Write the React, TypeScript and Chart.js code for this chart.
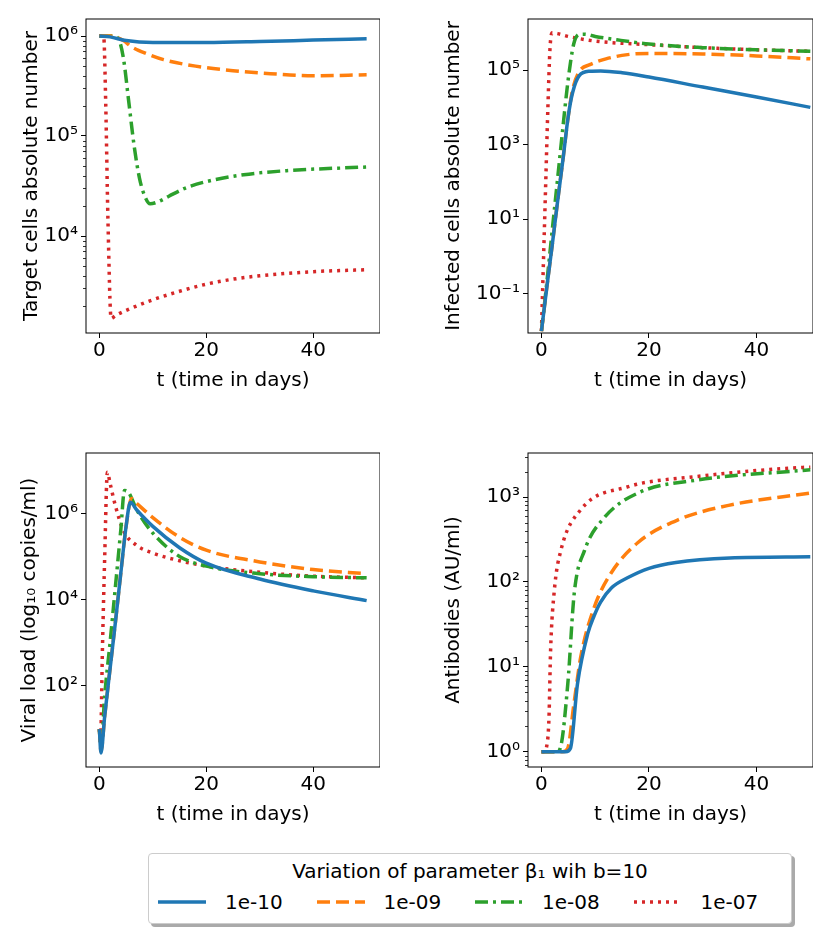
import { useEffect, useRef } from "react";
import Chart from "chart.js/auto";

const SERIES = ["1e-10", "1e-09", "1e-08", "1e-07"];
const COLORS = ["#1f77b4", "#ff7f0e", "#2ca02c", "#d62728"];
const DASHES: number[][] = [[], [13, 6], [13, 5, 3, 5], [3, 5]];

// target cells
const targetT = [
  [0, 2, 5, 10, 20, 30, 40, 50],
  [0, 2, 3, 4.5, 6, 9, 12, 18, 25, 32, 40, 50],
  [0, 2.5, 3.5, 4.5, 5.5, 6.5, 7.5, 8.5, 9.5, 11, 13, 16, 20, 27, 35, 50],
  [0, 0.8, 1.2, 1.6, 2.2, 3, 5, 10, 15, 20, 25, 30, 40, 50],
];
const targetV = [
  [1e6, 9.8e5, 9e5, 8.6e5, 8.6e5, 8.8e5, 9.1e5, 9.4e5],
  [1e6, 1e6, 9.8e5, 9e5, 7.8e5, 6.6e5, 5.8e5, 5e5, 4.5e5, 4.2e5, 4e5, 4.1e5],
  [1e6, 1e6, 9.5e5, 6e5, 2.2e5, 8e4, 3.8e4, 2.5e4, 2.1e4, 2.2e4, 2.5e4, 3e4, 3.5e4, 4.1e4, 4.5e4, 4.9e4],
  [1e6, 1e6, 2e5, 1.5e4, 1.5e3, 1.6e3, 1.8e3, 2.3e3, 2.8e3, 3.3e3, 3.7e3, 4e3, 4.4e3, 4.6e3],
];

// infected cells
const infT = [
  [0, 1, 2, 3, 4, 5, 5.8, 7, 9, 11, 15, 20, 30, 40, 50],
  [0, 1, 2, 3, 4, 5, 5.8, 7, 9, 12, 16, 20, 30, 40, 50],
  [0, 1, 2, 3, 4, 5, 6, 7, 8, 10, 14, 20, 30, 40, 50],
  [0, 0.4, 0.8, 1.2, 1.6, 2, 3, 5, 10, 20, 30, 40, 50],
];
const infV = [
  [0.01, 0.15, 2, 30, 400, 6e3, 2.5e4, 7e4, 9.3e4, 9.5e4, 8.5e4, 6.5e4, 3.5e4, 1.9e4, 1e4],
  [0.01, 0.15, 2, 30, 400, 6e3, 3e4, 9e4, 1.4e5, 2e5, 2.6e5, 2.8e5, 2.7e5, 2.4e5, 2e5],
  [0.01, 0.2, 5, 120, 3e3, 6e4, 5e5, 9e5, 9.2e5, 8e5, 6.5e5, 5e5, 4e5, 3.5e5, 3.2e5],
  [0.01, 1, 100, 1e4, 4e5, 1e6, 9.5e5, 8e5, 6e5, 4.8e5, 4e5, 3.5e5, 3.2e5],
];

// viral load
const viralT = [
  [0, 0.3, 1, 2, 3, 4, 5, 5.8, 7, 10, 15, 20, 30, 40, 50],
  [0, 0.3, 1, 2, 3, 4, 5, 6, 7, 10, 15, 20, 30, 40, 50],
  [0, 0.3, 1, 2, 3, 4, 4.7, 5.5, 7, 10, 15, 20, 30, 40, 50],
  [0, 0.2, 0.6, 1, 1.5, 2, 3, 4.5, 7, 10, 15, 20, 30, 40, 50],
];
const viralV = [
  [10, 2.8, 20, 250, 3e3, 4e4, 5e5, 1.8e6, 1.2e6, 5e5, 1.6e5, 7e4, 3e4, 1.6e4, 9.5e3],
  [10, 3, 20, 250, 3e3, 4e4, 5e5, 2.2e6, 1.7e6, 8e5, 2.8e5, 1.4e5, 7.5e4, 5e4, 4e4],
  [10, 3.5, 60, 1e3, 2e4, 4e5, 3.4e6, 3e6, 1.2e6, 3.5e5, 1e5, 6e4, 4e4, 3.4e4, 3.2e4],
  [10, 5, 1e3, 1e5, 9e6, 5e6, 1.5e6, 4e5, 1.8e5, 1.2e5, 8e4, 6e4, 4.3e4, 3.5e4, 3.2e4],
];

// antibodies
const abT = [
  [0, 4.5, 5.4, 6.7, 8.6, 9.8, 11, 13, 16, 20, 25, 35, 50],
  [0, 4, 4.9, 6, 7.3, 9.8, 12.9, 17.9, 25.4, 34.8, 50],
  [0, 2.8, 3.5, 4.9, 6.1, 8, 11.7, 18, 28.6, 50],
  [0, 0.5, 0.9, 1.4, 1.7, 2.4, 3.6, 7.3, 16, 28.6, 48.6, 50],
];
const abV = [
  [1, 1, 1.1, 6.3, 24.5, 40, 58, 85, 112, 145, 170, 192, 198],
  [1, 1, 1.1, 3.5, 13, 50, 126, 290, 540, 800, 1120],
  [1, 1, 1.1, 6.3, 74, 234, 575, 1120, 1580, 2100],
  [1, 1, 1.1, 2.5, 15.5, 80, 234, 710, 1320, 1740, 2240, 2250],
];

const X_TICKS = [0, 20, 40];
const sup: Record<string, string> = { "-": "⁻", "0": "⁰", "1": "¹", "2": "²", "3": "³", "4": "⁴", "5": "⁵", "6": "⁶", "7": "⁷", "8": "⁸", "9": "⁹" };
const pow10 = (e: number) => "10" + String(e).split("").map((c) => sup[c]).join("");

const FONT = "'DejaVu Sans', sans-serif";

// box around the plot area plus the small minor ticks of log axes
const frame = {
  id: "frame",
  afterDraw(chart: any) {
    const { ctx, chartArea: a } = chart;
    ctx.save();
    ctx.strokeStyle = "#000";
    ctx.lineWidth = 1;
    ctx.strokeRect(a.left, a.top, a.right - a.left, a.bottom - a.top);
    const minors: number[] = chart.options.plugins.frame?.minors || [];
    const y = chart.scales.y;
    ctx.lineWidth = 0.8;
    ctx.beginPath();
    minors.forEach((v) => {
      const py = Math.round(y.getPixelForValue(v)) + 0.5;
      ctx.moveTo(a.left, py);
      ctx.lineTo(a.left - 3, py);
    });
    ctx.stroke();
    ctx.restore();
  },
};

type PanelProps = {
  ts: number[][];
  vs: number[][];
  title: string;
  yExp: number[];
  minor: boolean;
  yMin: number;
  yMax: number;
  xMax: number;
  yWidth: number;
  padLeft: number;
  left: number;
  top: number;
  width: number;
};

function Panel(p: PanelProps) {
  const ref: any = useRef(null);
  useEffect(() => {
    const minors: number[] = [];
    if (p.minor) {
      for (let e = Math.floor(Math.log10(p.yMin)); e <= Math.ceil(Math.log10(p.yMax)); e++) {
        for (let m = 2; m < 10; m++) {
          const v = m * Math.pow(10, e);
          if (v >= p.yMin && v <= p.yMax) minors.push(v);
        }
      }
    }
    const chart = new Chart(ref.current.getContext("2d"), {
      type: "line",
      data: {
        datasets: SERIES.map((s, i) => ({
          label: s,
          data: p.ts[i].map((t, j) => ({ x: t, y: p.vs[i][j] })),
          borderColor: COLORS[i],
          borderDash: DASHES[i],
          borderWidth: 3.5,
          pointRadius: 0,
          cubicInterpolationMode: "monotone" as const,
          fill: false,
        })),
      },
      options: {
        animation: false,
        responsive: false,
        layout: { padding: { top: 19, right: 0, left: p.padLeft, bottom: 7 } },
        plugins: { legend: { display: false }, tooltip: { enabled: false }, frame: { minors } } as any,
        scales: {
          x: {
            type: "linear",
            min: -2.5,
            max: p.xMax,
            afterBuildTicks: (s: any) => { s.ticks = X_TICKS.map((v) => ({ value: v })); },
            afterFit: (s: any) => { s.height = 60; },
            ticks: { color: "#000", font: { family: FONT, size: 20 }, padding: 1, maxRotation: 0 },
            grid: { drawOnChartArea: false, tickLength: 5, color: "#000" },
            border: { display: false },
            title: { display: true, text: "t (time in days)", color: "#000", font: { family: FONT, size: 20 }, padding: 0 },
          },
          y: {
            type: "logarithmic",
            min: p.yMin,
            max: p.yMax,
            afterBuildTicks: (s: any) => { s.ticks = p.yExp.map((e) => ({ value: Math.pow(10, e) })); },
            afterFit: (s: any) => { s.width = p.yWidth; },
            ticks: {
              color: "#000",
              font: { family: FONT, size: 20 },
              padding: 3,
              autoSkip: false,
              callback: (v: any) => pow10(Math.round(Math.log10(v))),
            },
            grid: { drawOnChartArea: false, tickLength: 5, color: "#000" },
            border: { display: false },
            title: { display: true, text: p.title, color: "#000", font: { family: FONT, size: 20 }, padding: 2 },
          },
        },
      },
      plugins: [frame],
    });
    return () => { chart.destroy() };
  }, []);
  return (
    <canvas
      ref={ref}
      width={p.width}
      height={400}
      style={{ position: "absolute", left: p.left, top: p.top, width: p.width, height: 400 }}
    />
  );
}

function Legend() {
  return (
    <div
      style={{
        position: "absolute", left: 148, top: 853, width: 644, height: 71,
        border: "1px solid #ccc", borderRadius: 4, boxShadow: "3px 3px 0 #aaa",
        fontFamily: FONT, fontSize: 20, background: "#fff", boxSizing: "border-box",
      }}
    >
      <div style={{ textAlign: "center", marginTop: 5 }}>Variation of parameter β₁ wih b=10</div>
      <div style={{ display: "flex", marginTop: 7, paddingLeft: 8 }}>
        {SERIES.map((s, i) => (
          <div key={s} style={{ display: "flex", alignItems: "center", width: 163 }}>
            <svg width={50} height={10} style={{ marginRight: 18 }}>
              <line x1={1} y1={5} x2={49} y2={5} stroke={COLORS[i]} strokeWidth={3.5}
                strokeDasharray={DASHES[i].length ? DASHES[i].join(" ") : undefined} />
            </svg>
            <span>{s}</span>
          </div>
        ))}
      </div>
    </div>
  );
}

export default function App() {
  return (
    <div style={{ position: "absolute", left: 0, top: 0, width: 813, height: 929, background: "#fff", overflow: "hidden" }}>
      <Panel ts={targetT} vs={targetV} title="Target cells absolute number" yExp={[4, 5, 6]} minor={true}
        yMin={Math.pow(10, 3.03)} yMax={Math.pow(10, 6.17)} xMax={52.5} yWidth={68} padLeft={18} left={0} top={0} width={380} />
      <Panel ts={infT} vs={infV} title="Infected cells absolute number" yExp={[-1, 1, 3, 5]} minor={false}
        yMin={Math.pow(10, -2.05)} yMax={Math.pow(10, 6.37)} xMax={50.5} yWidth={88} padLeft={20} left={420} top={0} width={393} />
      <Panel ts={viralT} vs={viralV} title="Viral load (log₁₀ copies/ml)" yExp={[2, 4, 6]} minor={false}
        yMin={Math.pow(10, 0.12)} yMax={Math.pow(10, 7.4)} xMax={52.5} yWidth={70} padLeft={16} left={0} top={434} width={380} />
      <Panel ts={abT} vs={abV} title="Antibodies (AU/ml)" yExp={[0, 1, 2, 3]} minor={true}
        yMin={Math.pow(10, -0.18)} yMax={Math.pow(10, 3.52)} xMax={50.5} yWidth={88} padLeft={20} left={420} top={434} width={393} />
      <Legend />
    </div>
  );
}
